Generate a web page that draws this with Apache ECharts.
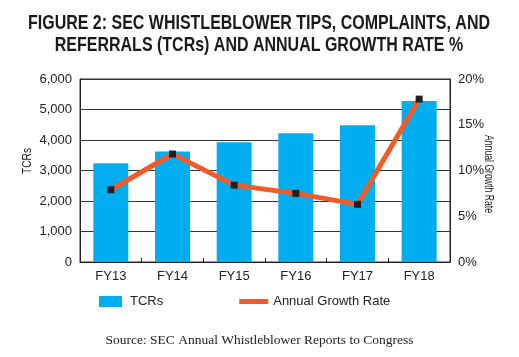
<!DOCTYPE html>
<html><head><meta charset="utf-8">
<script src="https://cdn.jsdelivr.net/npm/echarts@6/dist/echarts.min.js"></script>
<style>html,body{margin:0;padding:0;background:#fff}#c{width:519px;height:357px}</style>
</head><body><div id="c"></div>
<script>
const categories = ['FY13','FY14','FY15','FY16','FY17','FY18'];
const tcrs = [3238, 3620, 3923, 4218, 4484, 5282];
const growth = [7.9, 11.8, 8.4, 7.5, 6.3, 17.8];
const leftTicks = [0,1000,2000,3000,4000,5000,6000];
const rightTicks = [0,5,10,15,20];
const titleLines = ['FIGURE 2: SEC WHISTLEBLOWER TIPS, COMPLAINTS, AND', 'REFERRALS (TCRs) AND ANNUAL GROWTH RATE %'];

const sans = '"Liberation Sans", Arial, sans-serif';
const titleFont = 'bold 21px "Liberation Sans", Arial, sans-serif';
const mctx = document.createElement('canvas').getContext('2d');
mctx.font = titleFont;
const titleScale = 462 / mctx.measureText(titleLines[0]).width;
mctx.font = '12px "Liberation Sans", Arial, sans-serif';
const rightNameScale = 78 / mctx.measureText('Annual Growth Rate').width;

const chart = echarts.init(document.getElementById('c'));
chart.setOption({
  animation: false,
  graphic: [
    {type:'text', x:259, y:13, scaleX:titleScale, style:{text:titleLines[0], font:titleFont, textAlign:'center', textVerticalAlign:'top', fill:'#1a1a1a'}},
    {type:'text', x:259, y:35, scaleX:titleScale, style:{text:titleLines[1], font:titleFont, textAlign:'center', textVerticalAlign:'top', fill:'#1a1a1a'}},
    {type:'text', x:28, y:161, rotation:Math.PI/2, scaleX:0.85, style:{text:'TCRs', font:'12px "Liberation Sans", Arial, sans-serif', textAlign:'center', textVerticalAlign:'middle', fill:'#222'}},
    {type:'text', x:488, y:174, rotation:-Math.PI/2, scaleX:rightNameScale, style:{text:'Annual Growth Rate', font:'12px "Liberation Sans", Arial, sans-serif', textAlign:'center', textVerticalAlign:'middle', fill:'#222'}}
  ],
  title: {
    text: 'Source: SEC Annual Whistleblower Reports to Congress',
    left: 'center', top: 328,
    textStyle: {fontFamily: '"Liberation Serif","DejaVu Serif",serif', fontWeight: 'normal', fontSize: 13.5, color: '#222'}
  },
  legend: {
    top: 290, left: 94, itemGap: 76, itemWidth: 29, itemHeight: 11, symbolKeepAspect: true,
    textStyle: {fontFamily: sans, fontSize: 13, color: '#222'},
    data: [{name:'TCRs', icon:'path://M0,0H23V11H0Z'}, {name:'Annual Growth Rate', icon:'path://M0,0H29V5H0Z', itemStyle:{color:'#f15a29'}}]
  },
  grid: {left: 80, right: 69, top: 79, bottom: 95, show: true, borderColor: '#333', borderWidth: 1},
  xAxis: {
    type: 'category', data: categories,
    axisLine: {lineStyle: {color: '#222'}},
    axisTick: {show: true, inside: true, alignWithLabel: false, length: 4, lineStyle:{color:'#222'}},
    axisLabel: {fontFamily: sans, fontSize: 13, color: '#222', margin: 8}
  },
  yAxis: [{
    type: 'value', min: 0, max: 6000, interval: 1000,
    axisLine: {show: true, lineStyle: {color: '#222'}},
    axisTick: {show: false},
    axisLabel: {fontFamily: sans, fontSize: 13, color: '#222',
      formatter: v => leftTicks.includes(v) ? v.toLocaleString('en-US') : ''},
    splitLine: {lineStyle: {color: '#333', width: 1}}
  },{
    type: 'value', min: 0, max: 20, interval: 5,
    axisLine: {show: true, lineStyle: {color: '#222'}},
    axisTick: {show: false},
    axisLabel: {fontFamily: sans, fontSize: 13, color: '#222',
      formatter: v => rightTicks.includes(v) ? v + '%' : ''},
    splitLine: {show: false}
  }],
  series: [{
    name: 'TCRs', type: 'bar', data: tcrs, barWidth: 35,
    itemStyle: {color: '#00aeef'}
  },{
    name: 'Annual Growth Rate', type: 'line', yAxisIndex: 1, data: growth,
    lineStyle: {color: '#f15a29', width: 5},
    itemStyle: {color: '#231f20'},
    symbol: 'rect', symbolSize: 7, showAllSymbol: true
  }]
});
</script></body></html>
